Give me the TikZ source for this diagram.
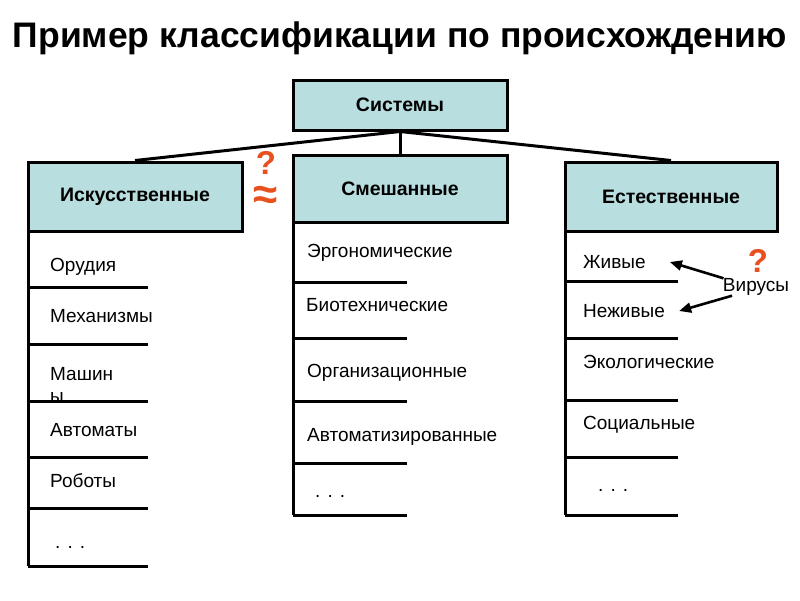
\documentclass[tikz,border=0pt]{standalone}
\usepackage{fontspec}
\setmainfont{Liberation Sans}
\usetikzlibrary{arrows.meta}
\definecolor{boxfill}{RGB}{184,222,224}
\definecolor{qorange}{RGB}{232,80,30}
\tikzset{
  classbox/.style={draw=black, line width=3pt, fill=boxfill, minimum width=214pt,
    minimum height=69pt, inner sep=0pt, font=\fontsize{19.5}{22}\selectfont\bfseries},
  item/.style={anchor=west, inner sep=0pt, font=\fontsize{19}{22}\selectfont},
  rule/.style={line width=3pt},
  qmark/.style={text=qorange, inner sep=0pt, font=\fontsize{33}{36}\selectfont\bfseries},
  arr/.style={-{Triangle[length=12pt,width=10pt]}, line width=2.6pt}
}
\begin{document}
\begin{tikzpicture}[x=1pt,y=-1pt]
    \useasboundingbox (0,0) rectangle (800,600);

    \node[font=\fontsize{35.5}{38}\selectfont\bfseries] (title) at (400,38) {Пример классификации по происхождению};

    % column lines
    \draw[rule] (28,197) -- (28,566);
    \draw[rule] (293,190) -- (293,515);
    \draw[rule] (565,197) -- (565,515);

    \foreach \y in {287,344,401,457,508,566}
        \draw[rule] (28,\y) -- (148,\y);
    \foreach \y in {282,338,401,463,515}
        \draw[rule] (293,\y) -- (407,\y);
    \foreach \y in {281,338,400,457,515}
        \draw[rule] (565,\y) -- (678,\y);

    \node[classbox, minimum height=50pt] (sys) at (400,105) {Системы};
    \node[classbox] (art) at (135,196.5) {Искусственные};
    \node[classbox, minimum height=67pt] (mix) at (400,188.5) {Смешанные};
    \node[classbox, minimum width=212pt] (nat) at (671,196.5) {Естественные};

    \draw[rule] (sys.south) -- (art.north);
    \draw[rule] (sys.south) -- (mix.north);
    \draw[rule] (sys.south) -- (nat.north);

    % artificial
    \node[item] (tools) at (50,267) {Орудия};
    \node[item] (mech) at (50,316) {Механизмы};
    \node[item, align=left] (mach) at (50,385) {Машин\\[0pt]ы};
    \node[item] (auto) at (50,430) {Автоматы};
    \node[item] (robot) at (50,481) {Роботы};
    \node[item] (artdots) at (55,547) {. . .};

    % mixed
    \node[item] (ergo) at (307,253) {Эргономические};
    \node[item] (bio) at (306,305) {Биотехнические};
    \node[item] (org) at (307,373) {Организационные};
    \node[item] (autom) at (307,437) {Автоматизированные};
    \node[item] (mixdots) at (315,496) {. . .};

    % natural
    \node[item] (live) at (583,262) {Живые};
    \node[item] (dead) at (583,311) {Неживые};
    \node[item] (eco) at (583,362) {Экологические};
    \node[item] (soc) at (583,425) {Социальные};
    \node[item] (natdots) at (598,490) {. . .};

    \node[item, anchor=center] (virus) at (756,287) {Вирусы};
    \draw[arr] (virus.165) -- ([xshift=24pt]live.east);
    \draw[arr] (virus.200) -- ([xshift=14pt]dead.east);

    \node[qmark] (q1) at (758,261) {?};
    \node[qmark] (q2) at (266,163) {?};
    \node[qmark, font=\fontsize{44}{46}\selectfont\bfseries] (approx) at (266,198) {≈};
\end{tikzpicture}
\end{document}
